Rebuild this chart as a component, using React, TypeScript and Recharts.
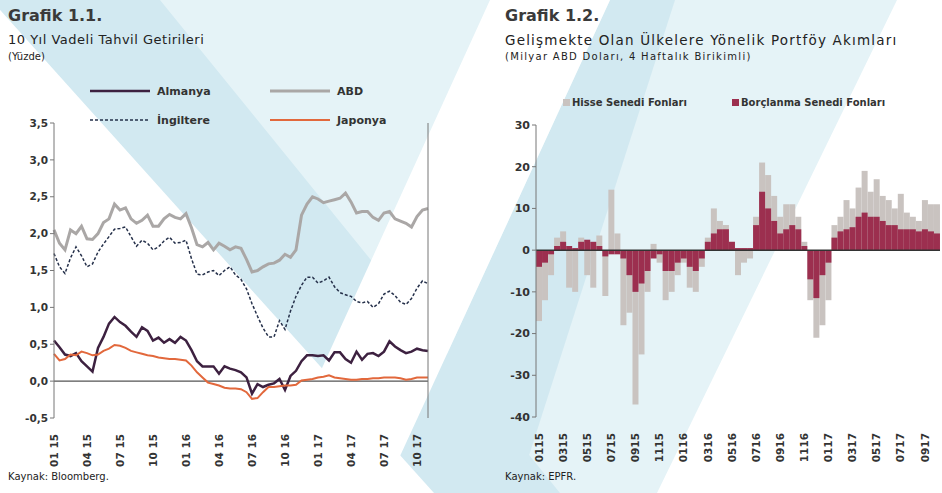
import { Bar, BarChart, Legend, Line, LineChart, ReferenceLine, XAxis, YAxis } from "recharts";

const FONT = '"DejaVu Sans", Verdana, sans-serif';
const INK = "#333";

// Grafik 1.1 – 10 yıl vadeli tahvil getirileri, half-monthly readings 01/2015 .. 11/2017
const YIELD_TICKS = ["01 15", "04 15", "07 15", "10 15", "01 16", "04 16", "07 16", "10 16", "01 17", "04 17", "07 17", "10 17"];
const YIELD_Y_TICKS = [-0.5, 0, 0.5, 1, 1.5, 2, 2.5, 3, 3.5];
const YIELD_LEGEND_ORDER = ["Almanya", "ABD", "İngiltere", "Japonya"];
const ALMANYA = [
  0.55, 0.46, 0.36, 0.34, 0.38, 0.27, 0.2, 0.13, 0.45, 0.6,
  0.78, 0.87, 0.8, 0.75, 0.67, 0.6, 0.73, 0.68, 0.55, 0.59,
  0.52, 0.57, 0.52, 0.6, 0.55, 0.42, 0.27, 0.2, 0.2, 0.2,
  0.1, 0.2, 0.17, 0.15, 0.12, 0.05, -0.17, -0.04, -0.08, -0.05,
  -0.03, 0.03, -0.12, 0.07, 0.14, 0.27, 0.35, 0.35, 0.34, 0.35,
  0.28, 0.39, 0.39, 0.3, 0.25, 0.4, 0.29, 0.37, 0.38, 0.34,
  0.4, 0.54, 0.47, 0.42, 0.38, 0.4, 0.44, 0.42, 0.41,
];
const ABD = [
  2.05, 1.87, 1.78, 2.05, 2.0, 2.1, 1.93, 1.92, 2.0, 2.15,
  2.2, 2.4, 2.32, 2.35, 2.2, 2.14, 2.18, 2.25, 2.1, 2.1,
  2.2, 2.26, 2.22, 2.2, 2.27, 2.08, 1.85, 1.82, 1.88, 1.78,
  1.87, 1.83, 1.78, 1.82, 1.8, 1.65, 1.48, 1.5, 1.55, 1.59,
  1.6, 1.64, 1.72, 1.68, 1.78, 2.25, 2.4, 2.5, 2.47, 2.42,
  2.44, 2.46, 2.48, 2.55, 2.43, 2.28, 2.3, 2.3, 2.22, 2.18,
  2.28, 2.3, 2.2, 2.17, 2.14, 2.09, 2.23, 2.32, 2.34,
];
const INGILTERE = [
  1.73, 1.55, 1.46, 1.67, 1.82, 1.7, 1.55, 1.59, 1.75, 1.86,
  1.96, 2.06, 2.07, 2.09, 1.96, 1.83, 1.91, 1.87, 1.78, 1.82,
  1.9, 1.95, 1.87, 1.88, 1.91, 1.66, 1.45, 1.44, 1.48, 1.5,
  1.43, 1.5, 1.55, 1.44, 1.38, 1.25, 1.05, 0.88, 0.72, 0.6,
  0.6, 0.82, 0.7, 0.95, 1.15, 1.3, 1.41, 1.41, 1.33, 1.36,
  1.41, 1.28, 1.2, 1.17, 1.15, 1.08, 1.06, 1.08, 1.0, 1.05,
  1.18, 1.22, 1.16, 1.07, 1.04, 1.12, 1.26, 1.36, 1.32,
];
const JAPONYA = [
  0.37, 0.28, 0.3, 0.36, 0.35, 0.4, 0.38, 0.35, 0.36, 0.41,
  0.44, 0.49, 0.48, 0.45, 0.41, 0.39, 0.37, 0.35, 0.34, 0.32,
  0.31, 0.3, 0.3, 0.29, 0.28, 0.21, 0.12, 0.05, -0.02, -0.04,
  -0.06, -0.09, -0.1, -0.1, -0.11, -0.15, -0.24, -0.23, -0.15, -0.08,
  -0.08, -0.07, -0.06, -0.06, -0.05, 0.01, 0.02, 0.03, 0.05, 0.06,
  0.08, 0.05, 0.04, 0.03, 0.02, 0.02, 0.03, 0.03, 0.04, 0.04,
  0.05, 0.05, 0.05, 0.04, 0.02, 0.03, 0.05, 0.05, 0.05,
];

// Grafik 1.2 – portföy akımları (milyar ABD doları), half-monthly readings 01/2015 .. 10/2017
const FLOW_TICKS = ["0115", "0315", "0515", "0715", "0915", "1115", "0116", "0316", "0516", "0716", "0916", "1116", "0117", "0317", "0517", "0717", "0917"];
const FLOW_Y_TICKS = [-40, -30, -20, -10, 0, 10, 20, 30];
const FLOW_LEGEND_ORDER = ["Hisse Senedi Fonları", "Borçlanma Senedi Fonları"];
const HISSE = [
  -17, -12, -6, 3, 4.5, -9, -10, 3, -6, -9,
  3.5, -11, 14.5, 4, -18, -15, -37, -25, -10, 1.5,
  -3, -12, -10, -6, -3, -9, -10, -4, 3, 10,
  7, 6, 2, -6, -3, -2, 8, 21, 18, 13,
  8, 11, 11, 8, 2, -12, -21, -18, -12, 6,
  8, 12, 10, 15, 19, 14, 17, 13, 12, 10,
  13.5, 9, 8, 7, 12, 11, 11,
];
const BORCLANMA = [
  -4, -3, -1, 1, 2, 1, 0.5, 2, 2.5, 2,
  1, -1.5, -1, -1, -2, -6, -10, -8, -5, -2,
  -1, -5, -5, -3, -2, -4, -5, -2, 2, 4,
  5, 5, 2, 0.5, 0.5, 0.5, 6, 14, 10, 7,
  4, 5, 6, 5, 1, -7, -11.5, -6, -3, 3,
  4.5, 5, 5.5, 8, 9, 8, 8, 7, 6, 6,
  5, 5, 5, 4.5, 5, 4.5, 4,
];

// two points per month; the first half of each month carries the "MM YY" key used by the ticks
const halfMonthKey = (i: number, sep: string) => {
  const month = i >> 1;
  const mm = String((month % 12) + 1).padStart(2, "0");
  const yy = String(15 + Math.floor(month / 12));
  return `${mm}${sep}${yy}${i % 2 ? "b" : ""}`;
};

const yieldData = ABD.map((_, i) => ({
  period: halfMonthKey(i, " "),
  almanya: ALMANYA[i],
  abd: ABD[i],
  ingiltere: INGILTERE[i],
  japonya: JAPONYA[i],
}));

const flowData = HISSE.map((_, i) => ({
  period: halfMonthKey(i, ""),
  hisse: HISSE[i],
  borc: BORCLANMA[i],
}));

const commaDecimal = (v: number) => v.toFixed(1).replace(".", ",");

const ordered = (payload: any[] | undefined, order: string[]) =>
  [...(payload ?? [])].sort((a, b) => order.indexOf(a.value) - order.indexOf(b.value));

function VerticalTick({ x, y, payload }: any) {
  return (
    <text
      x={x}
      y={y + 8}
      dy="0.35em"
      transform={`rotate(-90 ${x} ${y + 8})`}
      textAnchor="end"
      fontFamily={FONT}
      fontSize={10.5}
      fontWeight={700}
      fill={INK}
    >
      {payload.value}
    </text>
  );
}

function YieldLegend({ payload }: any) {
  return (
    <div style={{ position: "relative", width: 380, height: 46, fontFamily: FONT, fontSize: 11, fontWeight: 700, color: INK }}>
      {ordered(payload, YIELD_LEGEND_ORDER).map((p: any, i: number) => (
        <div
          key={p.value}
          style={{ position: "absolute", left: (i % 2) * 180, top: Math.floor(i / 2) * 29, display: "flex", alignItems: "center", height: 14 }}
        >
          <svg width={60} height={6}>
            <line
              x1={0}
              y1={3}
              x2={60}
              y2={3}
              stroke={p.color}
              strokeWidth={p.payload?.strokeWidth ?? 2}
              strokeDasharray={p.payload?.strokeDasharray}
            />
          </svg>
          <span style={{ marginLeft: 7 }}>{p.value}</span>
        </div>
      ))}
    </div>
  );
}

function FlowLegend({ payload }: any) {
  return (
    <div style={{ position: "relative", width: 380, height: 14, fontFamily: FONT, fontSize: 10, fontWeight: 700, color: INK }}>
      {ordered(payload, FLOW_LEGEND_ORDER).map((p: any, i: number) => (
        <div key={p.value} style={{ position: "absolute", left: i * 169, top: 0, display: "flex", alignItems: "center", height: 14 }}>
          <span style={{ width: 7, height: 7, background: p.color, display: "inline-block" }} />
          <span style={{ marginLeft: 2 }}>{p.value}</span>
        </div>
      ))}
    </div>
  );
}

function Backdrop() {
  return (
    <svg width={942} height={493} style={{ position: "absolute", left: 0, top: 0 }}>
      <rect width={942} height={493} fill="#e5f3f7" />
      <polygon points="-9,0 160,0 560,493 434,493" fill="#d2e9f1" />
      <polygon points="610,0 675,0 517,493 383,493" fill="#d2e9f1" />
      <polygon points="0,10 434,493 0,493" fill="#ffffff" />
      <polygon points="490,0 610,0 383,493 265,493" fill="#ffffff" />
      <polygon points="897,0 942,0 942,493 657,493" fill="#ffffff" />
    </svg>
  );
}

const titleStyle = { position: "absolute", fontFamily: FONT, color: "#3a3a3a", whiteSpace: "nowrap" } as const;

export default function App() {
  return (
    <div style={{ position: "absolute", left: 0, top: 0, width: 942, height: 493, overflow: "hidden", background: "#fff" }}>
      <Backdrop />

      <div style={{ ...titleStyle, left: 8, top: 6, fontSize: 16, fontWeight: 700 }}>Grafik 1.1.</div>
      <div style={{ ...titleStyle, left: 8, top: 32, fontSize: 13, letterSpacing: 0.5, color: "#222" }}>10 Yıl Vadeli Tahvil Getirileri</div>
      <div style={{ ...titleStyle, left: 8, top: 51, fontSize: 10, color: "#222" }}>(Yüzde)</div>
      <div style={{ ...titleStyle, left: 8, top: 471, fontSize: 10, color: "#222" }}>Kaynak: Bloomberg.</div>

      <div style={{ ...titleStyle, left: 505, top: 6, fontSize: 16, fontWeight: 700 }}>Grafik 1.2.</div>
      <div style={{ ...titleStyle, left: 505, top: 32, fontSize: 13.5, letterSpacing: 1.2, color: "#222" }}>Gelişmekte Olan Ülkelere Yönelik Portföy Akımları</div>
      <div style={{ ...titleStyle, left: 505, top: 51, fontSize: 10, letterSpacing: 1.3, color: "#222" }}>(Milyar ABD Doları, 4 Haftalık Birikimli)</div>
      <div style={{ ...titleStyle, left: 505, top: 471, fontSize: 10, color: "#222" }}>Kaynak: EPFR.</div>

      <div style={{ position: "absolute", left: 0, top: 0 }}>
        <LineChart width={470} height={493} data={yieldData} margin={{ top: 123, right: 2, bottom: 25, left: 14 }}>
          <XAxis
            dataKey="period"
            ticks={YIELD_TICKS}
            interval={0}
            height={50}
            axisLine={false}
            tickLine={false}
            tick={<VerticalTick />}
          />
          <YAxis
            yAxisId="left"
            width={40}
            domain={[-0.5, 3.5]}
            ticks={YIELD_Y_TICKS}
            tickFormatter={commaDecimal}
            tickSize={4}
            stroke="#777"
            tick={{ fill: INK, fontFamily: FONT, fontSize: 10.5, fontWeight: 700 }}
          />
          <YAxis
            yAxisId="right"
            orientation="right"
            width={40}
            domain={[-0.5, 3.5]}
            ticks={YIELD_Y_TICKS}
            tickFormatter={commaDecimal}
            tickSize={4}
            stroke="#777"
            tick={{ fill: INK, fontFamily: FONT, fontSize: 10.5, fontWeight: 700 }}
          />
          <ReferenceLine yAxisId="left" y={0} stroke="#555" strokeWidth={1.2} />
          <Line yAxisId="left" dataKey="almanya" name="Almanya" stroke="#3d2140" strokeWidth={2.5} dot={false} isAnimationActive={false} />
          <Line yAxisId="left" dataKey="abd" name="ABD" stroke="#aaa7a6" strokeWidth={3} dot={false} isAnimationActive={false} />
          <Line yAxisId="left" dataKey="ingiltere" name="İngiltere" stroke="#25304a" strokeWidth={1.5} strokeDasharray="3 2" dot={false} isAnimationActive={false} />
          <Line yAxisId="left" dataKey="japonya" name="Japonya" stroke="#e2683c" strokeWidth={2} dot={false} isAnimationActive={false} />
          <Legend verticalAlign="middle" layout="horizontal" wrapperStyle={{ top: 84, left: 90, width: 380 }} content={<YieldLegend />} />
        </LineChart>
      </div>

      <div style={{ position: "absolute", left: 470, top: 0 }}>
        <BarChart width={472} height={493} data={flowData} barCategoryGap={0} margin={{ top: 125, right: 2, bottom: 26, left: 30 }}>
          <XAxis xAxisId="debt" dataKey="period" hide height={0} />
          <XAxis
            xAxisId="eq"
            dataKey="period"
            ticks={FLOW_TICKS}
            interval={0}
            height={50}
            axisLine={false}
            tickLine={false}
            tick={<VerticalTick />}
          />
          <YAxis
            width={36}
            domain={[-40, 30]}
            ticks={FLOW_Y_TICKS}
            tickSize={4}
            stroke="#777"
            tick={{ fill: INK, fontFamily: FONT, fontSize: 11, fontWeight: 700 }}
          />
          <Bar xAxisId="eq" dataKey="hisse" name="Hisse Senedi Fonları" fill="#c9c3c0" isAnimationActive={false} />
          <Bar xAxisId="debt" dataKey="borc" name="Borçlanma Senedi Fonları" fill="#9c2f4f" isAnimationActive={false} />
          <ReferenceLine xAxisId="eq" y={0} stroke="#333" strokeWidth={1.5} />
          <Legend verticalAlign="middle" layout="horizontal" wrapperStyle={{ top: 95, left: 93, width: 380 }} content={<FlowLegend />} />
        </BarChart>
      </div>
    </div>
  );
}
